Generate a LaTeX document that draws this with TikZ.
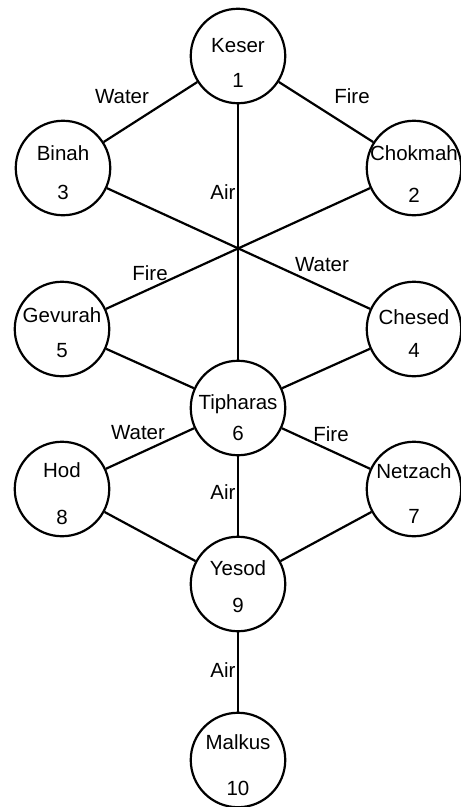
\documentclass[tikz,border=0pt]{standalone}
\usepackage{fontspec}
\setmainfont{Liberation Sans}
\usepackage{tikz}
\usetikzlibrary{positioning}

\begin{document}
\begin{tikzpicture}[x=1pt, y=-1pt,
    sefira/.style={circle, draw, line width=2.2pt, minimum size=94.5pt, inner sep=0pt},
    conn/.style={line width=2.2pt},
    elem/.style={font=\fontsize{20.5}{24}\selectfont, inner sep=0pt}]
    \useasboundingbox (0,0) rectangle (461,807);
    % the ten sefirot
    \foreach \id/\nm/\num/\x/\y/\gap/\dy in {keser/Keser/1/238/56/11/6.5, chokmah/Chokmah/2/414/168/18/6, binah/Binah/3/63/168/15/4.5, chesed/Chesed/4/414/329/9/5, gevurah/Gevurah/5/62/329/11/4, tipharas/Tipharas/6/238/408/7/9.5, netzach/Netzach/7/414/489/21/5, hod/Hod/8/62/489/23/4.5, yesod/Yesod/9/238/584/13/2.5, malkus/Malkus/10/238/760/22/5} {
        \node[sefira, label={[elem, align=center, yshift=-\dy pt]center:{\nm\\[\gap pt]\num}}] (\id) at (\x, \y) {};
    }
    % paths
    \foreach \a/\b in {keser/binah, keser/chokmah, keser/tipharas, binah/chesed, chokmah/gevurah, gevurah/tipharas, chesed/tipharas, tipharas/hod, tipharas/netzach, tipharas/yesod, hod/yesod, netzach/yesod, yesod/malkus} {
        \draw[conn] (\a) -- (\b);
    }
    % elements on the paths
    \foreach \n/\t/\x/\y in {kb/Water/122/97, kc/Fire/352/96, kt/Air/223/192, bc/Water/322/265, cg/Fire/150/273, th/Water/138/433, tn/Fire/331/434, ty/Air/223/492, ym/Air/223/670} {
        \node[elem] (el-\n) at (\x, \y) {\t};
    }
\end{tikzpicture}
\end{document}
